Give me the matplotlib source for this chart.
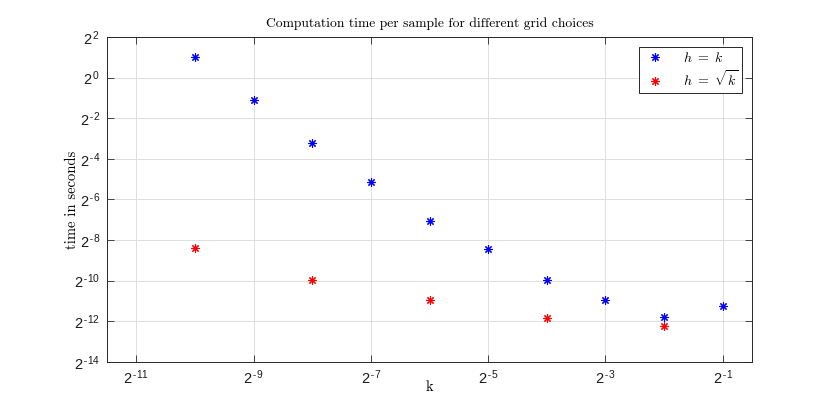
import matplotlib
matplotlib.use('Agg')
import matplotlib.pyplot as plt
import numpy as np
from matplotlib.ticker import FixedLocator, FuncFormatter, NullLocator

# -- Data: step size k vs. computation time per sample (seconds) --
k_hk = [2**-10, 2**-9, 2**-8, 2**-7, 2**-6, 2**-5, 2**-4, 2**-3, 2**-2, 2**-1]
t_hk = [2.056, 0.463, 0.1058, 0.0286, 0.00761, 0.00290, 0.00101,
        0.000511, 0.000284, 0.000405]

k_hsqrt = [2**-10, 2**-8, 2**-6, 2**-4, 2**-2]
t_hsqrt = [0.00296, 0.000990, 0.000497, 0.000274, 0.000210]

x_exps = [-11, -9, -7, -5, -3, -1]
y_exps = [2, 0, -2, -4, -6, -8, -10, -12, -14]

plt.rcParams['mathtext.fontset'] = 'cm'
SERIF = 'cmr10'
TICK_FONT = 'Liberation Sans'

fig = plt.figure(figsize=(8.3, 4.16), dpi=100)
ax = fig.add_axes([0.129, 0.130, 0.777, 0.781])

star = (8, 2, 0)
ax.plot(k_hk, t_hk, linestyle='none', marker=star, markersize=6,
        markeredgewidth=0.8, color='#0000ff', label=r'$h\ =\ k$')
ax.plot(k_hsqrt, t_hsqrt, linestyle='none', marker=star, markersize=6,
        markeredgewidth=0.8, color='#ff0000', label=r'$h\ =\ \sqrt{k}$')

ax.set_xscale('log', base=2)
ax.set_yscale('log', base=2)
ax.set_xlim(2**-11.5, 2**-0.5)
ax.set_ylim(2**-14, 2**2)

ax.xaxis.set_major_locator(FixedLocator([2.0**e for e in x_exps]))
ax.yaxis.set_major_locator(FixedLocator([2.0**e for e in y_exps]))
ax.xaxis.set_minor_locator(NullLocator())
ax.yaxis.set_minor_locator(NullLocator())


def pow2_label(v, pos):
    e = int(round(np.log2(v)))
    sign = r'\text{-}' if e < 0 else ''
    return r'$\mathregular{2^{\,%s%d}}$' % (sign, abs(e))


ax.xaxis.set_major_formatter(FuncFormatter(pow2_label))
ax.yaxis.set_major_formatter(FuncFormatter(pow2_label))
for lbl in ax.get_xticklabels() + ax.get_yticklabels():
    lbl.set_fontfamily(TICK_FONT)

ax.tick_params(direction='in', which='both', top=True, right=True,
               length=5, width=0.6, colors='#262626', labelsize=10.5,
               labelcolor='#1a1a1a', pad=5)
ax.grid(True, color='#dedede', linewidth=0.7)
ax.set_axisbelow(True)
for spine in ax.spines.values():
    spine.set_color('#262626')
    spine.set_linewidth(0.7)

ax.set_title('Computation time per sample for different grid choices',
             family=SERIF, fontsize=9.8, pad=7)
ax.set_xlabel('k', family=SERIF, fontsize=10.5)
ax.set_ylabel('time in seconds', family=SERIF, fontsize=10.5)
ax.xaxis.set_label_coords(0.5, -0.058)
ax.yaxis.set_label_coords(-0.044, 0.5)

leg = ax.legend(loc='upper right', fontsize=10, fancybox=False,
                edgecolor='#262626', framealpha=1, borderpad=0.3,
                labelspacing=0.3, handletextpad=1.2, handlelength=1.6,
                borderaxespad=0.7)
leg.get_frame().set_linewidth(0.7)

fig.savefig('out.png', dpi=100, facecolor='white')
plt.close(fig)
